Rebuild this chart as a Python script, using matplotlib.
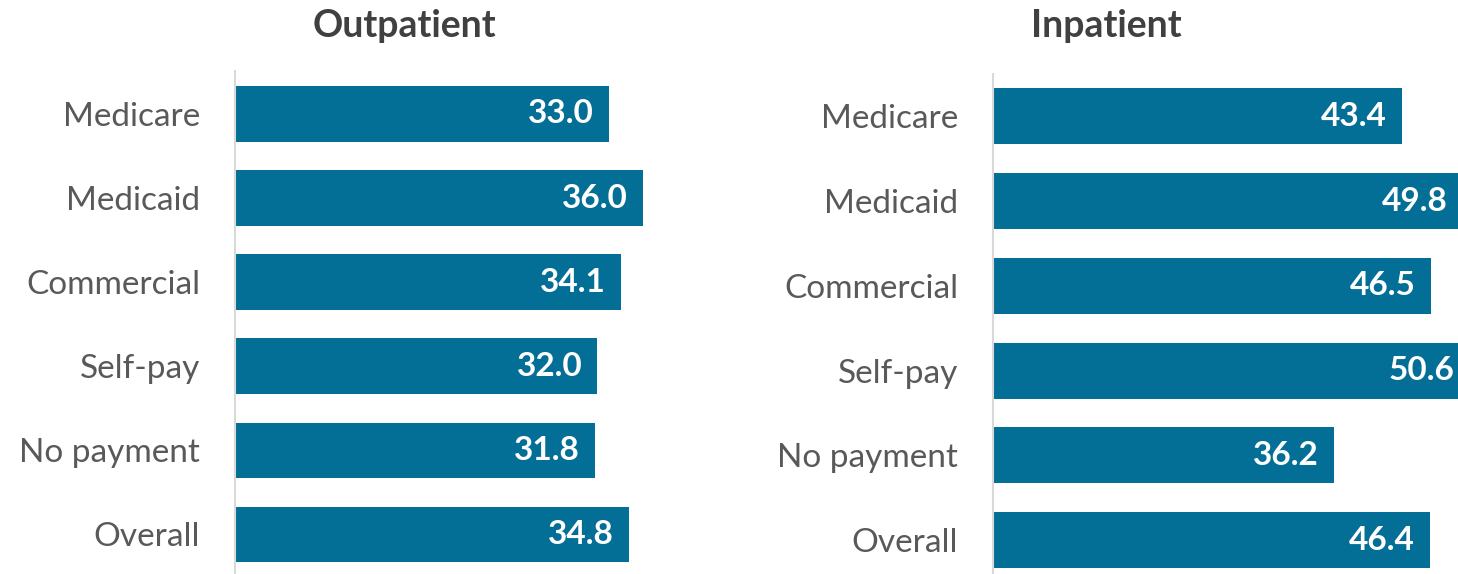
import matplotlib
matplotlib.use("Agg")
import matplotlib.pyplot as plt
from matplotlib import transforms

plt.rcParams["font.family"] = ["Lato", "DejaVu Sans"]

categories = ["Medicare", "Medicaid", "Commercial", "Self-pay", "No payment", "Overall"]
outpatient = [33.0, 36.0, 34.1, 32.0, 31.8, 34.8]
inpatient = [43.4, 49.8, 46.5, 50.6, 36.2, 46.4]

BAR = "#046f96"
W, H = 1458, 574


def panel(fig, rect, values, xmax, ylim, title, title_x):
    ax = fig.add_axes(rect)
    y = range(len(categories))
    ax.barh(y, values, height=0.66, color=BAR)
    ax.set_xlim(0, xmax)
    ax.set_ylim(*ylim)
    ax.set_yticks(list(y))
    ax.set_yticklabels(categories, fontsize=24, color="#595959")
    ax.tick_params(axis="y", length=0, pad=25)
    ax.set_xticks([])
    for s in ("top", "right", "bottom"):
        ax.spines[s].set_visible(False)
    ax.spines["left"].set_color("#d9d9d9")
    ax.spines["left"].set_linewidth(1.5)
    # value labels sit just inside the bar end
    off = transforms.offset_copy(ax.transData, fig=fig, x=-15, y=0, units="dots")
    for i, v in enumerate(values):
        ax.text(v, i, f"{v:.1f}", transform=off, ha="right", va="center",
                color="white", fontsize=24, fontweight="bold", clip_on=False)
    fig.text(title_x / W, 1 - 26 / H, title, ha="center", va="center",
             fontsize=27, fontweight="bold", color="#404040")
    return ax


fig = plt.figure(figsize=(W / 100, H / 100), dpi=100)
panel(fig, [235 / W, 0, 453 / W, 503 / H], outpatient, 40, (5.47, -0.51),
      "Outpatient", 404)
panel(fig, [993 / W, 0, 465 / W, 500 / H], inpatient, 49.36, (5.4, -0.5),
      "Inpatient", 1106)
fig.savefig("out.png", dpi=100)
